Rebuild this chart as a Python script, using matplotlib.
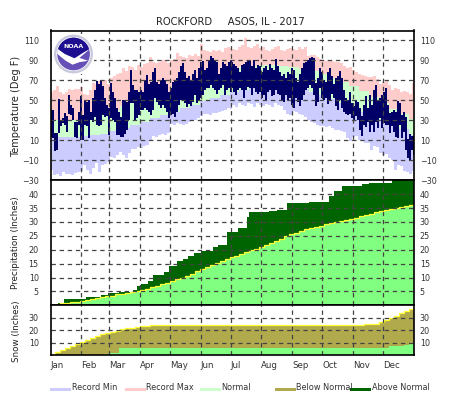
import numpy as np
import matplotlib
matplotlib.use("Agg")
import matplotlib.pyplot as plt
from matplotlib.patches import Circle, Polygon, Rectangle

months = ["Jan", "Feb", "Mar", "Apr", "May", "Jun", "Jul", "Aug", "Sep", "Oct", "Nov", "Dec"]
month_starts = [0, 31, 59, 90, 120, 151, 181, 212, 243, 273, 304, 334]

# Temperature: record values read every 3 days
record_max = [58,60,64,58,56,58,61,60,61,61,63,56,55,60,67,66,69,69,70,66,72,74,76,77,82,79,84,83,80,85,
              83,86,87,93,88,87,88,90,90,87,90,91,97,94,93,92,95,94,96,94,106,100,99,98,100,99,100,98,102,103,102,
              101,100,103,105,112,103,102,104,106,102,103,100,99,101,103,104,100,99,101,102,101,100,103,101,103,
              94,95,95,93,91,90,89,90,89,88,88,87,84,82,83,80,78,76,75,74,73,73,74,71,66,68,69,65,60,62,61,58,59,58,56,67]
record_min = [-20,-25,-24,-26,-22,-24,-24,-25,-23,-22,-21,-15,-20,-24,-18,-13,-22,-15,-14,-12,-7,-8,-5,-2,-5,-8,-3,1,1,3,
              2,4,5,10,14,13,15,16,15,17,26,25,27,26,25,26,28,30,30,32,34,36,36,35,37,37,38,39,40,42,41,
              45,43,47,45,44,47,46,43,47,45,44,46,45,43,47,45,44,40,36,35,39,38,36,35,33,30,28,27,25,24,24,23,24,22,20,20,19,18,12,
              9,13,14,10,9,7,7,0,4,3,-3,-5,-4,-8,-10,-20,-15,-16,-21,-22,-24,-21]
# Normals read every 10 days
normal_low = [13,13,13,14,15,16,19,22,25,28,32,35,38,42,45,49,52,55,58,60,62,64,64,64,63,61,58,55,51,47,42,38,34,30,26,21,15]
normal_high = [30,30,30,31,33,36,40,44,47,52,55,58,63,66,70,73,76,78,81,83,84,85,85,84,83,81,79,76,72,68,64,59,53,47,41,36,31]
# Observed temperature read every 2 days
obs_max = [40,40,17,17,51,30,32,37,34,55,45,42,28,28,38,54,35,50,48,50,38,52,60,69,66,70,64,52,45,42,
           67,58,52,42,38,33,50,50,48,58,80,65,60,60,58,60,58,70,75,66,68,78,82,68,66,70,72,70,66,58,
           62,68,70,72,78,84,87,78,72,74,70,76,80,72,82,88,89,80,82,90,94,92,90,88,76,82,88,86,84,88,90,
           88,86,84,82,78,85,86,88,90,89,84,90,82,85,84,78,82,84,80,86,82,80,91,84,78,74,76,72,78,76,
           82,80,72,68,76,82,87,88,90,92,93,92,67,72,82,78,70,68,78,82,74,66,72,74,79,72,60,52,50,58,
           47,44,50,48,42,34,45,54,42,55,45,60,65,50,52,55,58,62,45,37,38,40,38,49,47,35,38,33,11,16,14,14]
obs_min = [13,12,-1,0,17,24,27,25,18,36,35,30,13,12,25,10,10,25,24,12,30,28,33,25,24,25,35,33,34,15,
           32,30,28,15,15,13,13,16,20,30,47,47,30,32,35,40,40,42,40,38,35,40,52,48,45,42,45,42,38,32,
           35,36,33,38,45,50,50,47,43,46,44,48,55,47,50,52,55,60,62,62,65,62,60,56,60,62,65,55,60,62,58,
           62,58,55,60,62,60,52,60,63,62,55,62,58,56,58,52,55,50,58,60,54,55,60,56,55,50,48,55,50,52,
           45,42,52,48,44,50,55,60,62,65,62,55,44,48,62,52,50,52,46,50,56,52,44,40,50,42,38,36,35,36,
           32,30,34,30,20,14,25,23,28,18,25,18,28,22,32,22,27,25,25,17,24,18,13,12,25,12,18,0,-8,-10,0,-5]

# Precipitation: normal read every 5 days, observed at each visible step
precip_normal = [0.1,0.4,0.7,0.9,1.1,1.3,1.5,1.9,2.2,2.5,2.9,3.2,3.5,3.9,4.2,4.6,4.9,5.2,5.4,6.0,
                 6.5,7.1,7.7,8.2,8.6,9.3,10,10.7,11.4,12.2,13,13.8,14.6,15.3,16,16.7,17.3,17.9,18.5,19.2,
                 19.8,20.4,21,21.7,22.5,23.2,24,24.8,25.5,26.2,26.8,27.3,27.8,28.3,28.7,29.1,29.5,29.9,30.3,30.6,
                 31,31.5,32,32.5,33,33.5,33.9,34.2,34.6,35,35.5,35.8,36.2]
precip_days = [0,8,14,36,51,58,69,83,87,91,98,103,114,119,127,133,138,144,151,163,168,177,189,198,200,220,228,
               238,260,280,285,293,313,320,343]
precip_totals = [0.3,1.0,2.2,2.9,3.6,4.4,4.8,5.4,7,7.8,8.8,11,12,14.3,15.8,16.7,17.7,18.9,19.7,20.9,21.7,26.3,27.8,
                 31.7,33.5,34,34.4,36.8,37.3,39.2,41.2,43,43.6,44.1,45]

# Snow
snow_normal_days = [0,5,10,15,20,25,30,35,40,45,50,55,60,65,70,75,80,85,90,95,100,305,315,325,330,335,340,345,350,355,360]
snow_normal = [0.8,2.5,4.2,6,7.8,9.4,11,12.6,14,15.5,16.8,18,19,19.8,20.8,21.5,22.2,22.7,23.2,23.6,24,24.3,25,25.3,
               26.5,28,29.5,31.5,33.5,35.5,37]
snow_days = [0,53,59,69,340,355,360]
snow_totals = [0,0.8,1.9,5.9,7.2,8,10]

temp_ticks = [-30,-10,10,30,50,70,90,110]
precip_ticks = [5,10,15,20,25,30,35,40]
snow_ticks = [10,20,30]
legend_labels = ["Record Min", "Record Max", "Normal", "Below Normal", "Above Normal"]

C_MIN, C_MAX, C_NORM = "#CCCCFF", "#FFCCCC", "#CCFFCC"
C_OBS = "#000066"
C_GREEN, C_DARK, C_BELOW, C_YEL = "#80FF80", "#006400", "#B0AA4C", "#FFFF33"
legend_colors = [C_MIN, C_MAX, C_NORM, C_BELOW, C_DARK]
TXT = "#333333"

W, H = 463, 395
fig = plt.figure(figsize=(W/100, H/100), dpi=100, facecolor="white")
L, R = 50.5, 413.5

def make_ax(top, bottom):
    return fig.add_axes([L/W, (H-bottom)/H, (R-L)/W, (bottom-top)/H])

def step_edges(n, step):
    return np.minimum(np.arange(n+1)*step, 365)

ax1 = make_ax(30.5, 180.3)
ax2 = make_ax(180.3, 305.3)
ax3 = make_ax(305.3, 355.3)

# Temperature panel
ax1.stairs(record_max, step_edges(len(record_max), 3), baseline=-30, fill=True, color=C_MAX, lw=0)
ax1.stairs(normal_high, step_edges(len(normal_high), 10), baseline=-30, fill=True, color=C_NORM, lw=0)
ax1.stairs(normal_low, step_edges(len(normal_low), 10), baseline=-30, fill=True, color=C_MIN, lw=0)
ax1.stairs(record_min, step_edges(len(record_min), 3), baseline=-30, fill=True, color="white", lw=0)
days2 = np.arange(len(obs_max))*2
ax1.bar(days2, np.array(obs_max)-np.array(obs_min), bottom=obs_min, width=2, align="edge", color=C_OBS, lw=0)
ax1.set_ylim(-30, 120)
ax1.set_yticks(temp_ticks)

# Precipitation panel
ax2.stairs(precip_totals, precip_days+[365], baseline=0, fill=True, color=C_DARK, lw=0)
pe = step_edges(len(precip_normal), 5)
ax2.stairs(precip_normal, pe, baseline=0, fill=True, color=C_GREEN, lw=0)
ax2.stairs(precip_normal, pe, baseline=None, color=C_YEL, lw=0.9)
ax2.set_ylim(0, 45)
ax2.set_yticks(precip_ticks)

# Snow panel
se = snow_normal_days+[365]
ax3.stairs(snow_normal, se, baseline=0, fill=True, color=C_BELOW, lw=0)
ax3.stairs(snow_totals, snow_days+[365], baseline=0, fill=True, color=C_GREEN, lw=0)
ax3.stairs(snow_normal, se, baseline=None, color=C_YEL, lw=0.9)
ax3.set_ylim(0, 40)
ax3.set_yticks(snow_ticks)

for ax in (ax1, ax2, ax3):
    ax.set_xlim(0, 365)
    ax.set_xticks(month_starts[1:])
    ax.set_axisbelow(False)
    ax.grid(True, color="#444444", ls=(0, (3.5, 3)), lw=0.9)
    ax.tick_params(length=0, labelbottom=False, labelleft=True, labelright=False,
                   labelsize=5.8, labelcolor=TXT)
    ax.tick_params(axis="y", pad=8.5)
    sec = ax.secondary_yaxis("right")
    sec.set_yticks(ax.get_yticks())
    sec.tick_params(length=0, labelsize=5.8, labelcolor=TXT, pad=4.5)
    sec.spines["right"].set_visible(False)
    for s in ax.spines.values():
        s.set_linewidth(1.2)
        s.set_color("black")
        s.set_zorder(5)

def px(x, y):
    return x/W, (H-y)/H

fig.text(*px(230.5, 22), "ROCKFORD     ASOS, IL - 2017", ha="center", va="center", fontsize=7.2, color="#222222")
fig.text(*px(16, 106.5), "Temperature (Deg F)", rotation=90, ha="center", va="center", fontsize=7.0, color="#222222")
fig.text(*px(16, 243), "Precipitation (Inches)", rotation=90, ha="center", va="center", fontsize=6.3, color="#222222")
fig.text(*px(16, 331), "Snow (Inches)", rotation=90, ha="center", va="center", fontsize=6.3, color="#222222")

for name, d in zip(months, month_starts):
    fig.text(*px(L + d*(R-L)/365, 365.5), name, ha="left", va="center", fontsize=6.2, color=TXT)

for i, (lab, col) in enumerate(zip(legend_labels, legend_colors)):
    x0 = 50 + i*75
    fig.add_artist(Rectangle(px(x0, 390.5), 21/W, 3/H, transform=fig.transFigure, color=col, lw=0))
    fig.text(*px(x0+21.5, 387.5), lab, ha="left", va="center", fontsize=5.9, color=TXT)

# NOAA emblem on its white square
logo = fig.add_axes([52/W, (H-74)/H, 42/W, 40/H])
logo.set_xlim(-1.105, 1.05); logo.set_ylim(-1.03, 1.03); logo.axis("off")
logo.add_patch(Rectangle((-1.105, -1.03), 2.155, 2.06, fc="white", ec="none"))
logo.add_patch(Circle((0, 0), 1.0, fc="#C9C9DD", ec="none"))
logo.add_patch(Circle((0, 0), 0.88, fc="white", ec="none"))
disc = Circle((0, 0), 0.84, fc="#6650B8", ec="none")
logo.add_patch(disc)
white = Polygon([(-0.95, 0.35), (-0.95, 0.1), (-0.4, -0.35), (-0.05, -0.55), (0.3, -0.42), (0.75, -0.35),
                 (0.3, -0.2), (0.95, 0.35)], fc="white", ec="none")
logo.add_patch(white); white.set_clip_path(disc)
navy = Polygon([(-1, 1), (1, 1), (1, 0.35), (0.55, 0.1), (0.05, -0.22), (-0.45, 0.0), (-1, 0.4)], fc="#1E0F90", ec="none")
logo.add_patch(navy); navy.set_clip_path(disc)
logo.text(0, 0.38, "NOAA", color="white", fontsize=4.5, fontweight="bold", ha="center", va="center")

fig.savefig("out.png", dpi=100, facecolor="white")
